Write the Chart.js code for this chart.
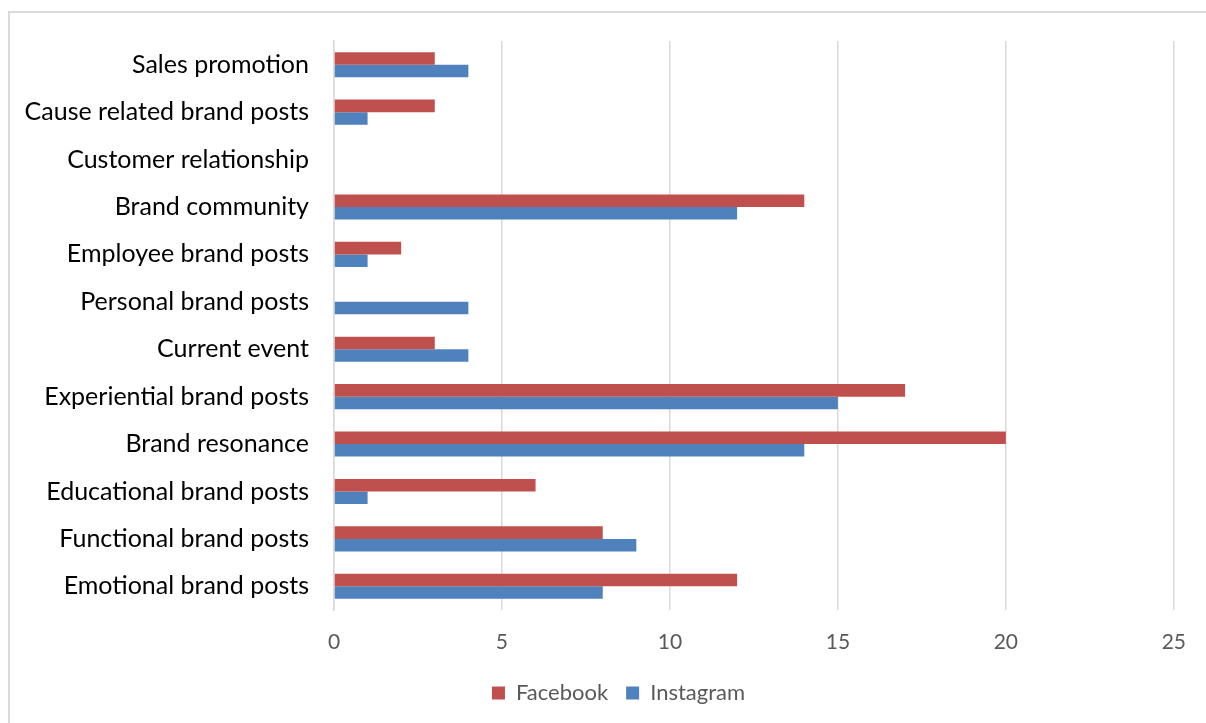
<!DOCTYPE html>
<html>
<head>
<meta charset="utf-8">
<script src="https://cdn.jsdelivr.net/npm/chart.js@4"></script>
<style>
html,body{margin:0;padding:0;background:#fff;overflow:hidden;width:1206px;height:723px;}
#frame{position:absolute;left:8px;top:11px;width:1400px;height:900px;border:2px solid #d9d9d9;box-sizing:border-box;}
#c{position:absolute;left:0;top:0;}
</style>
</head>
<body>
<div id="frame"></div>
<canvas id="c" width="1206" height="723"></canvas>
<script>
const categories = ["Sales promotion","Cause related brand posts","Customer relationship","Brand community","Employee brand posts","Personal brand posts","Current event","Experiential brand posts","Brand resonance","Educational brand posts","Functional brand posts","Emotional brand posts"];
const facebook = [3,3,0,14,2,0,3,17,20,6,8,12];
const instagram = [4,1,0,12,1,4,4,15,14,1,9,8];
const xTicks = [0,5,10,15,20,25];

const legendShift = {
  id: 'legendShift',
  afterLayout(chart) {
    if (chart.legend) { chart.legend.left += 30; chart.legend.right += 30; }
  }
};

new Chart(document.getElementById('c'), {
  type: 'bar',
  data: {
    labels: categories,
    datasets: [
      {label:'Facebook', data: facebook, backgroundColor:'#C0504D', borderWidth:0, categoryPercentage:0.53, barPercentage:1},
      {label:'Instagram', data: instagram, backgroundColor:'#4F81BD', borderWidth:0, categoryPercentage:0.53, barPercentage:1}
    ]
  },
  options: {
    indexAxis: 'y',
    responsive: false,
    devicePixelRatio: 1,
    animation: false,
    layout: {padding: {left: 0, right: 29, top: 41, bottom: 9}},
    scales: {
      x: {
        min: xTicks[0], max: xTicks[xTicks.length-1],
        ticks: {stepSize: 5, color:'#595959', font:{family:'Lato', size:21}, padding: 20},
        grid: {color:'#d9d9d9', lineWidth:1.5, drawTicks:false},
        border: {display:false},
        afterFit: s => { s.height = 54; }
      },
      y: {
        ticks: {color:'#000', font:{family:'Lato', size:25}, padding: 17},
        grid: {display:false},
        border: {display:true, color:'#d9d9d9', width:1.5},
        afterFit: s => { s.width = 334; }
      }
    },
    plugins: {
      legend: {
        position:'bottom',
        labels: {color:'#595959', font:{family:'Lato', size:22}, boxWidth:13, boxHeight:13, padding:18}
      },
      tooltip: {enabled:false}
    }
  },
  plugins: [legendShift]
});
</script>
</body>
</html>
